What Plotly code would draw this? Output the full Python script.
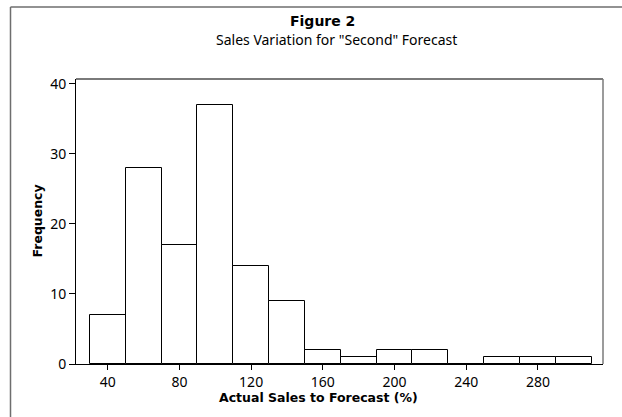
import plotly.graph_objects as go

bin_starts = [30, 50, 70, 90, 110, 130, 150, 170, 190, 210, 230, 250, 270, 290]
bin_width = 20
counts = [7, 28, 17, 37, 14, 9, 2, 1, 2, 2, 0, 1, 1, 1]
x_ticks = [40, 80, 120, 160, 200, 240, 280]
y_ticks = [0, 10, 20, 30, 40]
title_text = "Figure 2"
subtitle_text = 'Sales Variation for "Second" Forecast'
x_title = "Actual Sales to Forecast (%)"
y_title = "Frequency"

centers = [s + bin_width / 2 for s in bin_starts]

W, H = 622, 417
L, R, T, B = 76, 19, 79, 53
pw, ph = W - L - R, H - T - B


def px(x):
    return (x - L) / pw


def py(y):
    return (H - B - y) / ph


FONT = "Noto Sans"
BOLD = "DejaVu Sans"

fig = go.Figure(
    go.Bar(
        x=centers,
        y=counts,
        width=[bin_width] * len(centers),
        marker=dict(color="white", line=dict(color="black", width=1)),
        hoverinfo="x+y",
    )
)

fig.update_layout(
    width=W,
    height=H,
    margin=dict(l=L, r=R, t=T, b=B, pad=0),
    paper_bgcolor="white",
    plot_bgcolor="white",
    showlegend=False,
    font=dict(family=FONT, size=14, color="black"),
    bargap=0,
)

fig.update_xaxes(
    range=[22.3, 316.3],
    tickvals=x_ticks,
    ticks="outside",
    ticklen=5,
    tickcolor="black",
    showline=True,
    linecolor="black",
    linewidth=1,
    showgrid=False,
    zeroline=False,
    tickfont=dict(family=FONT, size=14),
)
fig.update_yaxes(
    range=[0, 40.7],
    tickvals=y_ticks,
    ticks="outside",
    ticklen=6,
    tickcolor="black",
    showline=True,
    linecolor="black",
    linewidth=1,
    showgrid=False,
    zeroline=False,
    tickfont=dict(family=FONT, size=14),
)

shapes = [
    dict(type="line", xref="paper", yref="paper", x0=0, x1=1, y0=1, y1=1,
         line=dict(color="#7a7a7a", width=2)),
    dict(type="line", xref="paper", yref="paper", x0=1, x1=1, y0=0, y1=1,
         line=dict(color="#7a7a7a", width=1.5)),
    dict(type="line", xref="paper", yref="paper", x0=px(10.5), x1=px(10.5),
         y0=py(7), y1=py(H + 5), line=dict(color="#6e6e6e", width=1.5)),
    dict(type="line", xref="paper", yref="paper", x0=px(10.5), x1=px(W + 5),
         y0=py(7), y1=py(7), line=dict(color="#6e6e6e", width=1.5)),
]
fig.update_layout(shapes=shapes)

annotations = [
    dict(text="<b>" + title_text + "</b>", x=px(322), y=py(21), xref="paper", yref="paper",
         showarrow=False, xanchor="center", yanchor="middle", font=dict(family=BOLD, size=14)),
    dict(text=subtitle_text, x=px(336), y=py(39), xref="paper", yref="paper",
         showarrow=False, xanchor="center", yanchor="middle", font=dict(family=FONT, size=14)),
    dict(text="<b>" + x_title + "</b>", x=px(318), y=py(397), xref="paper", yref="paper",
         showarrow=False, xanchor="center", yanchor="middle", font=dict(family=BOLD, size=12.5)),
    dict(text="<b>" + y_title + "</b>", x=px(37), y=0.5, xref="paper", yref="paper",
         showarrow=False, xanchor="center", yanchor="middle", textangle=-90,
         font=dict(family=BOLD, size=12.5)),
]
fig.update_layout(annotations=annotations)

fig.write_html("out.html", config={"displayModeBar": False},
               post_script="document.body.style.margin='0';")
